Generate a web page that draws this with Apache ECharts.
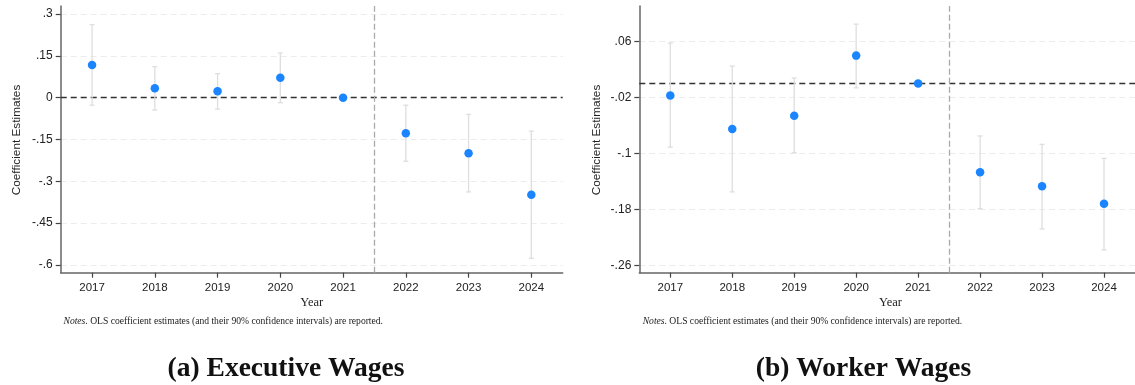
<!DOCTYPE html>
<html>
<head>
<meta charset="utf-8">
<script src="https://cdn.jsdelivr.net/npm/echarts@6/dist/echarts.min.js"></script>
<style>
  html, body { margin: 0; padding: 0; background: #ffffff; }
  #chart { width: 1135px; height: 385px; }
</style>
</head>
<body>
<div id="chart"></div>
<script>
// Event-study years
const years = [2017, 2018, 2019, 2020, 2021, 2022, 2023, 2024];

// (a) Executive wages: point estimates and 90% CI bounds (2021 is the reference year)
const execCoef = [0.117, 0.034, 0.023, 0.071, 0, -0.128, -0.199, -0.348];
const execLow  = [-0.027, -0.044, -0.041, -0.018, null, -0.228, -0.338, -0.576];
const execHigh = [0.262, 0.111, 0.086, 0.160, null, -0.027, -0.060, -0.120];
const execTicks = [0.3, 0.15, 0, -0.15, -0.3, -0.45, -0.6];

// (b) Worker wages
const workCoef = [-0.017, -0.065, -0.046, 0.040, 0, -0.127, -0.147, -0.172];
const workLow  = [-0.091, -0.155, -0.099, -0.006, null, -0.179, -0.208, -0.238];
const workHigh = [0.058, 0.025, 0.008, 0.085, null, -0.075, -0.087, -0.107];
const workTicks = [0.06, -0.02, -0.1, -0.18, -0.26];

const treatmentLine = 2021.5;

const BLUE = '#1a85ff';
const SANS = 'Liberation Sans, Arial, sans-serif';
const SERIF = 'Liberation Serif, Times New Roman, serif';

function tickText(v) {
  if (Math.abs(v) < 1e-9) return '0';
  return String(+v.toFixed(4)).replace(/^(-?)0\./, '$1.');
}

function yearText(v) {
  return String(Math.round(v));
}

function errorBar(params, api) {
  const x = api.value(0);
  const top = api.coord([x, api.value(2)]);
  const bot = api.coord([x, api.value(1)]);
  const w = 2.5;
  const style = { stroke: '#dedede', lineWidth: 1.3 };
  return {
    type: 'group',
    children: [
      { type: 'line', shape: { x1: top[0], y1: top[1], x2: bot[0], y2: bot[1] }, style: style },
      { type: 'line', shape: { x1: top[0] - w, y1: top[1], x2: top[0] + w, y2: top[1] }, style: style },
      { type: 'line', shape: { x1: bot[0] - w, y1: bot[1], x2: bot[0] + w, y2: bot[1] }, style: style }
    ]
  };
}

function ciData(lo, hi) {
  const out = [];
  years.forEach(function (y, i) {
    if (lo[i] !== null && hi[i] !== null) out.push([y, lo[i], hi[i]]);
  });
  return out;
}

function xAxisFor(gridIndex) {
  return {
    type: 'value', gridIndex: gridIndex,
    min: 2016.5, max: 2024.5,
    axisLine: { show: true, onZero: false, lineStyle: { color: '#666', width: 1.5 } },
    axisTick: { show: true, customValues: years, length: 5, lineStyle: { color: '#444', width: 1.2 } },
    axisLabel: { customValues: years, margin: 9, color: '#222', fontSize: 11.5, fontFamily: SANS, formatter: yearText },
    splitLine: { show: false }
  };
}

function yAxisFor(gridIndex, min, max, ticks) {
  return {
    type: 'value', gridIndex: gridIndex,
    min: min, max: max,
    axisLine: { show: true, onZero: false, lineStyle: { color: '#666', width: 1.5 } },
    axisTick: { show: true, customValues: ticks, length: 5, lineStyle: { color: '#444', width: 1.2 } },
    axisLabel: { customValues: ticks, margin: 8, color: '#222', fontSize: 12, fontFamily: SANS, formatter: tickText },
    splitLine: { show: true, lineStyle: { color: '#ececec', width: 1, type: [6, 4] } }
  };
}

function panelSeries(idx, coef, lo, hi) {
  return [
    {
      type: 'custom', xAxisIndex: idx, yAxisIndex: idx,
      renderItem: errorBar, data: ciData(lo, hi), z: 2,
      encode: { x: 0, y: [1, 2] }, silent: true,
      markLine: {
        silent: true, symbol: 'none', z: 1, animation: false,
        label: { show: false },
        data: [
          { yAxis: 0, lineStyle: { color: '#333', width: 1.3, type: [6, 4] } },
          { xAxis: treatmentLine, lineStyle: { color: '#aaa', width: 1.3, type: [6, 3] } }
        ]
      }
    },
    {
      type: 'scatter', xAxisIndex: idx, yAxisIndex: idx, z: 3,
      symbol: 'circle', symbolSize: 8.5,
      itemStyle: { color: BLUE, opacity: 1 },
      data: years.map(function (y, i) { return [y, coef[i]]; })
    }
  ];
}

const chart = echarts.init(document.getElementById('chart'), null, { renderer: 'canvas' });

const noteText = '{i|Notes}. OLS coefficient estimates (and their 90% confidence intervals) are reported.';
const noteRich = { i: { fontStyle: 'italic', fontSize: 9.6, fontFamily: SERIF, fill: '#222' } };

chart.setOption({
  animation: false,
  backgroundColor: '#ffffff',
  grid: [
    { left: 60.7, top: 6, width: 502, height: 266.7 },
    { left: 639.3, top: 6, width: 502.5, height: 266.7 }
  ],
  xAxis: [xAxisFor(0), xAxisFor(1)],
  yAxis: [
    yAxisFor(0, -0.6276, 0.3287, execTicks),
    yAxisFor(1, -0.2706, 0.111, workTicks)
  ],
  series: panelSeries(0, execCoef, execLow, execHigh)
    .concat(panelSeries(1, workCoef, workLow, workHigh)),
  graphic: [
    { type: 'text', x: 17, y: 140, rotation: Math.PI / 2,
      style: { text: 'Coefficient Estimates', align: 'center', verticalAlign: 'middle', fontSize: 11.8, fontFamily: SANS, fill: '#222' } },
    { type: 'text', x: 597, y: 140, rotation: Math.PI / 2,
      style: { text: 'Coefficient Estimates', align: 'center', verticalAlign: 'middle', fontSize: 11.8, fontFamily: SANS, fill: '#222' } },
    { type: 'text', x: 311.7, y: 303,
      style: { text: 'Year', align: 'center', verticalAlign: 'middle', fontSize: 12.5, fontFamily: SERIF, fill: '#222' } },
    { type: 'text', x: 890.5, y: 303,
      style: { text: 'Year', align: 'center', verticalAlign: 'middle', fontSize: 12.5, fontFamily: SERIF, fill: '#222' } },
    { type: 'text', x: 63.5, y: 321,
      style: { text: noteText, align: 'left', verticalAlign: 'middle', fontSize: 9.6, fontFamily: SERIF, fill: '#222', rich: noteRich } },
    { type: 'text', x: 642.7, y: 321,
      style: { text: noteText, align: 'left', verticalAlign: 'middle', fontSize: 9.6, fontFamily: SERIF, fill: '#222', rich: noteRich } },
    { type: 'text', x: 286, y: 369,
      style: { text: '(a) Executive Wages', align: 'center', verticalAlign: 'middle', fontSize: 27.5, fontWeight: 'bold', fontFamily: SERIF, fill: '#111' } },
    { type: 'text', x: 863.5, y: 369,
      style: { text: '(b) Worker Wages', align: 'center', verticalAlign: 'middle', fontSize: 27.5, fontWeight: 'bold', fontFamily: SERIF, fill: '#111' } }
  ]
});
</script>
</body>
</html>
